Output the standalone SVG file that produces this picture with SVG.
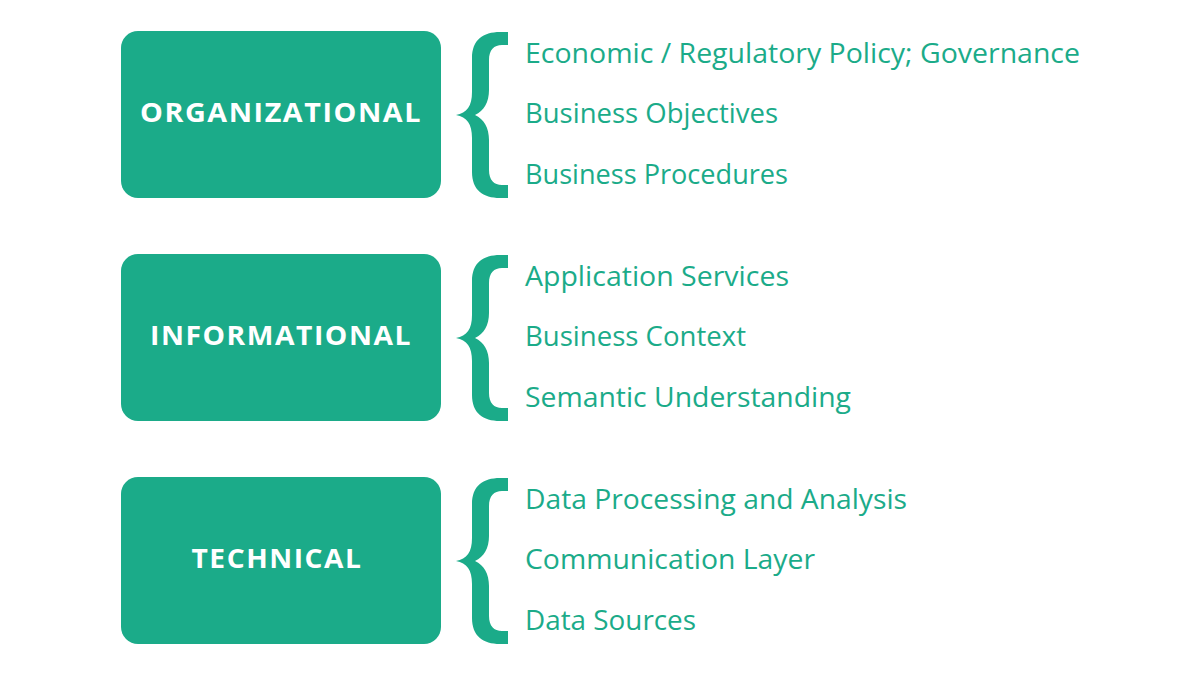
<svg xmlns="http://www.w3.org/2000/svg" width="1200" height="675" viewBox="0 0 1200 675">
<defs>
<style>
.box{fill:#1bab89}
.brace{fill:#1bab89}
.title{font-family:"Open Sans","Noto Sans",sans-serif;font-weight:700;font-size:27.5px;fill:#ffffff;text-anchor:middle;letter-spacing:1.5px}
.item{font-family:"Open Sans","Noto Sans",sans-serif;font-size:27px;fill:#1bab89}
</style>
<path id="br" d="M508 32 L500 32 C483 32 472 40 472 58 L472 92 C472 106 467 113 456 115 C467 117 472 124 472 138 L472 172 C472 190 483 198 500 198 L508 198 L508 185 L502 185 C494 185 489 180 489 170 L489 140 C489 128 484 119 475 115 C484 111 489 102 489 90 L489 60 C489 50 494 45 502 45 L508 45 Z"/>
</defs>
<rect width="1200" height="675" fill="#ffffff"/>
<g id="organizational">
<rect class="box" x="121" y="31" width="320" height="167" rx="17"/>
<text class="title" x="281" y="122" textLength="282" lengthAdjust="spacingAndGlyphs">ORGANIZATIONAL</text>
</g>
<g id="informational">
<rect class="box" x="121" y="254" width="320" height="167" rx="17"/>
<text class="title" x="281" y="345" textLength="262" lengthAdjust="spacingAndGlyphs">INFORMATIONAL</text>
</g>
<g id="technical">
<rect class="box" x="121" y="477" width="320" height="167" rx="17"/>
<text class="title" x="277" y="568" textLength="171" lengthAdjust="spacingAndGlyphs">TECHNICAL</text>
</g>
<g id="connectors">
<use href="#br" class="brace"/>
<use href="#br" class="brace" transform="translate(0,223)"/>
<use href="#br" class="brace" transform="translate(0,446)"/>
</g>
<g id="organizational-items">
<text class="item" x="525" y="63" textLength="555" lengthAdjust="spacingAndGlyphs">Economic / Regulatory Policy; Governance</text>
<text class="item" x="525" y="123" textLength="253" lengthAdjust="spacingAndGlyphs">Business Objectives</text>
<text class="item" x="525" y="184" textLength="263" lengthAdjust="spacingAndGlyphs">Business Procedures</text>
</g>
<g id="informational-items">
<text class="item" x="525" y="286" textLength="264" lengthAdjust="spacingAndGlyphs">Application Services</text>
<text class="item" x="525" y="346" textLength="221" lengthAdjust="spacingAndGlyphs">Business Context</text>
<text class="item" x="525" y="407" textLength="326" lengthAdjust="spacingAndGlyphs">Semantic Understanding</text>
</g>
<g id="technical-items">
<text class="item" x="525" y="509" textLength="382" lengthAdjust="spacingAndGlyphs">Data Processing and Analysis</text>
<text class="item" x="525" y="569" textLength="290" lengthAdjust="spacingAndGlyphs">Communication Layer</text>
<text class="item" x="525" y="630" textLength="171" lengthAdjust="spacingAndGlyphs">Data Sources</text>
</g>
</svg>
